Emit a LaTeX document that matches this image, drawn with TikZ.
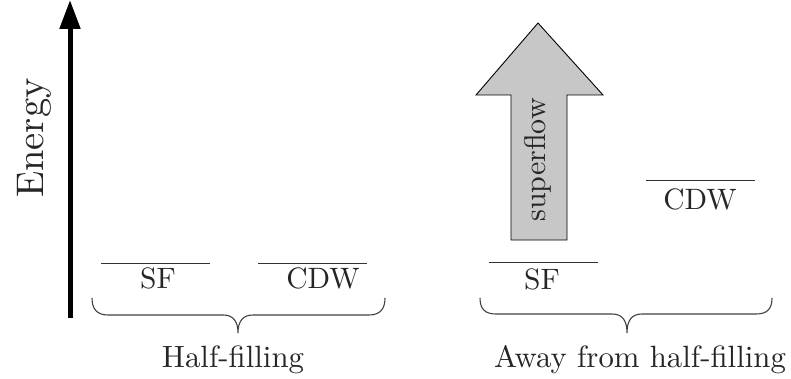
\documentclass[tikz,border=0pt]{standalone}
\usepackage{graphicx}
\usetikzlibrary{arrows.meta}
\begin{document}
\begin{tikzpicture}[x=1pt,y=-1pt,
  lbl/.style={inner sep=0pt, font=\fontsize{10}{12}\selectfont, text=black!85},
  level/.style={line width=0.9pt, draw=black!80},
  bracepath/.style={line width=1.1pt, draw=black!75},
  bigarrow/.style={line width=0.9pt, draw=black, fill=black!22, line join=miter}]
\path[use as bounding box] (0,0) rectangle (791,379);

% energy axis
\coordinate (ebot) at (70,318);
\coordinate (etop) at (70,0);
\draw[line width=5pt, -{Triangle[length=29pt,width=20pt]}] (ebot) -- (etop);
\node[lbl, rotate=90, anchor=base west] (energy) at (43,198) {\scalebox{3.85}{Energy}};

% half-filling levels
\coordinate (sfLa) at (101,263); \coordinate (sfLb) at (210,263);
\coordinate (cdwLa) at (258,263); \coordinate (cdwLb) at (367,263);
\draw[level] (sfLa) -- (sfLb);
\draw[level] (cdwLa) -- (cdwLb);
\node[lbl, anchor=base] (sfL) at (158,288) {\scalebox{2.95}{SF}};
\node[lbl, anchor=base] (cdwL) at (323,288) {\scalebox{2.95}{CDW}};

% away levels
\coordinate (sfRa) at (489,262); \coordinate (sfRb) at (598,262);
\coordinate (cdwRa) at (646,180); \coordinate (cdwRb) at (755,180);
\draw[level] (sfRa) -- (sfRb);
\draw[level] (cdwRa) -- (cdwRb);
\node[lbl, anchor=base] (sfR) at (542,289) {\scalebox{2.95}{SF}};
\node[lbl, anchor=base] (cdwR) at (700,210) {\scalebox{2.95}{CDW}};

% superflow arrow
\draw[bigarrow] (511,240) -- (511,95) -- (476,95) -- (538,23) -- (603,95) -- (567,95) -- (567,240) -- cycle;
\node[lbl, rotate=90, anchor=base west] (superflow) at (545,222) {\scalebox{3.0}{superflow}};

% braces
\draw[bracepath] (92,298) .. controls (92,309) and (97,315) .. (108,315)
  -- (223,315) .. controls (233,315) and (238,321) .. (238,333)
  .. controls (238,321) and (243,315) .. (253,315)
  -- (369,315) .. controls (380,315) and (385,309) .. (385,298);
\draw[bracepath] (480,298) .. controls (480,309) and (485,314) .. (496,314)
  -- (612,314) .. controls (622,314) and (627,320) .. (627,333)
  .. controls (627,320) and (632,314) .. (642,314)
  -- (756,314) .. controls (767,314) and (772,309) .. (772,298);

\node[lbl, anchor=base] (half) at (233,367) {\scalebox{3.08}{Half-filling}};
\node[lbl, anchor=base] (away) at (640,367) {\scalebox{3.08}{Away from half-filling}};
\end{tikzpicture}
\end{document}
